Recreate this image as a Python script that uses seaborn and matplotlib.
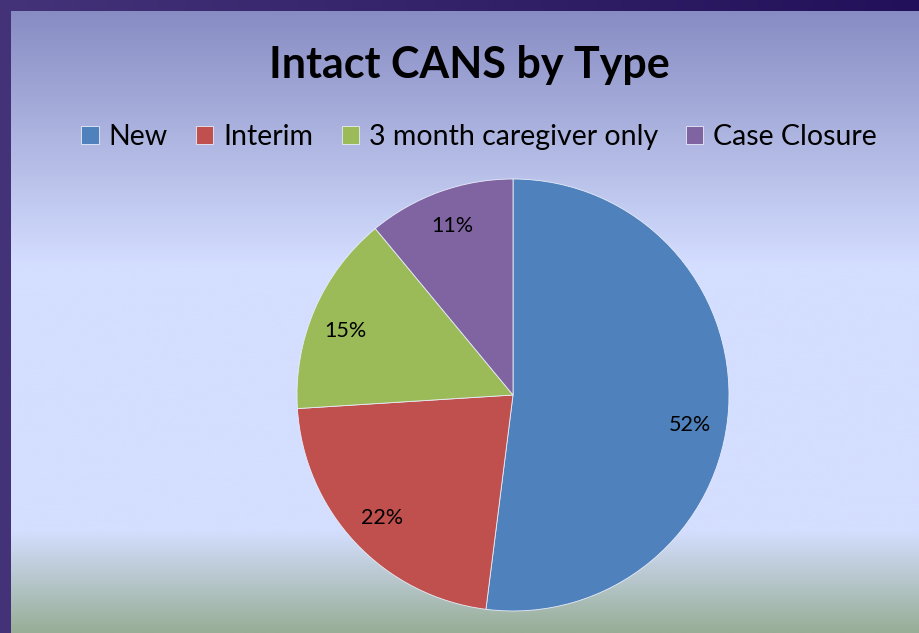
import numpy as np
import matplotlib.pyplot as plt
import matplotlib.colors as mcolors
import seaborn as sns

# data
types = ['New', 'Interim', '3 month caregiver only', 'Case Closure']
shares = [52, 22, 15, 11]
pal = sns.color_palette(['#4f81bd', '#c0504d', '#9bbb59', '#8064a2'])

sns.set_theme(style='white')
plt.rcParams['font.family'] = ['Lato', 'DejaVu Sans']

W, H = 920, 633
fig = plt.figure(figsize=(W / 100, H / 100), dpi=100)

# slide background: vertical gradient
bg = fig.add_axes([0, 0, 1, 1], zorder=0)
bg.set_axis_off()
stops = [(0.0, '#8489c0'), (0.42, '#d4deff'), (0.84, '#d4deff'), (1.0, '#98ae96')]
grad_cmap = mcolors.LinearSegmentedColormap.from_list('slide', stops)
bg.imshow(np.linspace(0, 1, 256)[:, None], aspect='auto', cmap=grad_cmap,
          extent=[0, 1, 0, 1], origin='upper')

# purple frame on left and top
top_cmap = mcolors.LinearSegmentedColormap.from_list('frame', ['#443379', '#22105a'])
bg.imshow(np.linspace(0, 1, 256)[None, :], aspect='auto', cmap=top_cmap,
          extent=[0, 1, 1 - 11 / H, 1])
bg.add_patch(plt.Rectangle((0, 0), 11 / W, 1, color='#433278', lw=0))
bg.set_xlim(0, 1)
bg.set_ylim(0, 1)

# pie
r = 216
cx, cy = 513, H - 395
ax = fig.add_axes([(cx - r) / W, (cy - r) / H, 2 * r / W, 2 * r / H], zorder=1)
wedges, texts, autotexts = ax.pie(shares, colors=pal, startangle=90, counterclock=False,
                                  autopct='%d%%', pctdistance=0.83, radius=1,
                                  wedgeprops=dict(linewidth=0.6, edgecolor='#e8ecf8'),
                                  textprops=dict(fontsize=15.5, color='black'))

# nudge the percentage labels a little along the rim, like the original
nudge = [-6, 0, 2.5, 0]
for w, t, d in zip(wedges, autotexts, nudge):
    ang = np.deg2rad((w.theta1 + w.theta2) / 2 + d)
    t.set_position((0.83 * np.cos(ang), 0.83 * np.sin(ang)))

ax.set_aspect('equal')
ax.set_xlim(-1, 1)
ax.set_ylim(-1, 1)
ax.set_axis_off()

fig.text(0.51, 1 - 65 / H, 'Intact CANS by Type', ha='center', va='center',
         fontsize=31, fontweight='bold', color='black')

fig.legend(wedges, types, loc='center', bbox_to_anchor=(0.521, 1 - 137 / H),
           ncol=4, frameon=False, fontsize=20.5, handlelength=0.6, handleheight=0.6,
           handletextpad=0.35, columnspacing=1.0, labelcolor='black')

fig.savefig('out.png', dpi=100)
